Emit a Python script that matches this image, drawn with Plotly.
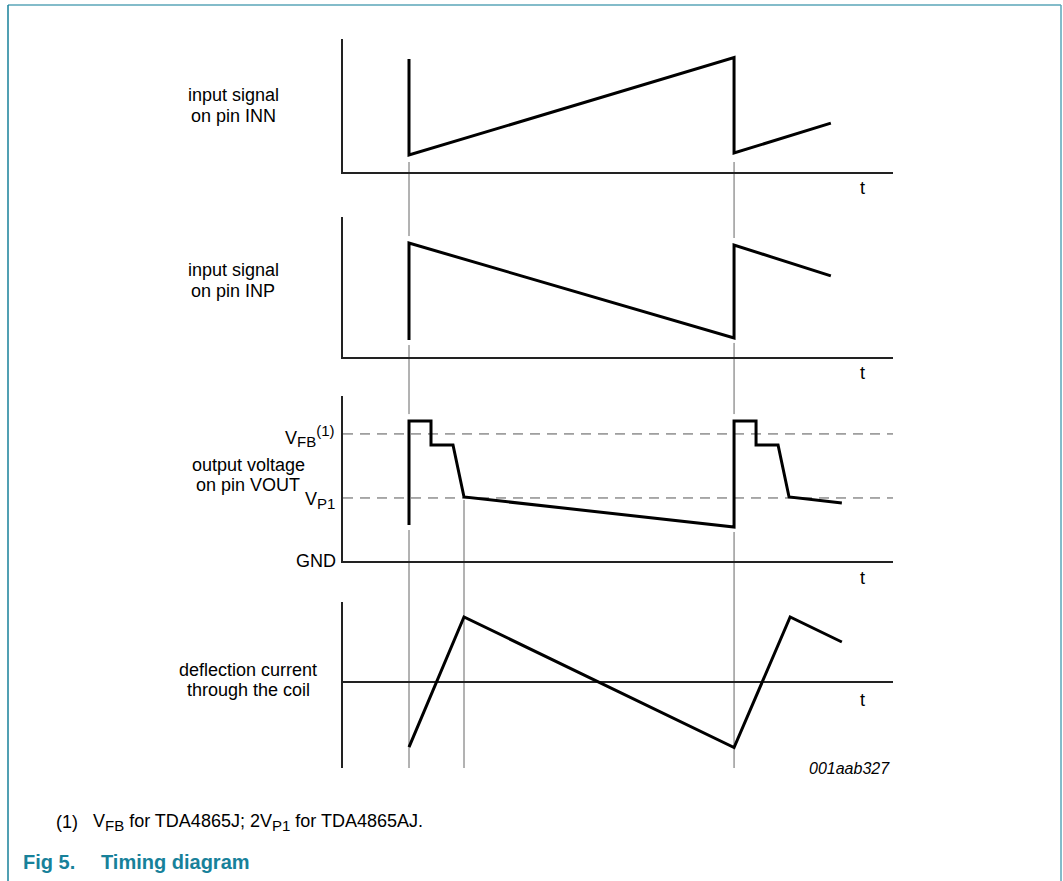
import plotly.graph_objects as go

W, H = 1063, 881

# ---- data (time in % of axis width, level in % of panel height) ----
t_inn = [12.0, 12.0, 71.1, 71.1, 88.7]
v_inn = [85.0, 12.8, 86.0, 14.3, 36.8]

t_inp = [12.0, 12.0, 71.1, 71.1, 88.7]
v_inp = [12.1, 81.4, 13.6, 80.0, 57.9]

t_out = [12.0, 12.0, 16.0, 16.0, 20.0, 22.0, 71.1, 71.1, 75.1, 75.1, 79.1, 81.1, 90.7]
v_out = [21.8, 84.8, 84.8, 70.3, 70.3, 38.8, 20.6, 84.8, 84.8, 70.3, 70.3, 38.8, 35.2]
v_fb_level = 77.0
v_p1_level = 38.2

t_coil = [12.0, 22.0, 71.1, 81.3, 90.7]
i_coil = [-39.2, 39.2, -39.5, 39.2, 24.1]

guide_times = [12.0, 71.1, 22.0]

panel_labels = [["input signal", "on pin INN"],
                ["input signal", "on pin INP"],
                ["output voltage", "on pin VOUT"],
                ["deflection current", "through the coil"]]

# ---- layout helpers (pixel -> paper) ----
def px(x):
    return x / W

def py(y):
    return 1 - y / H

FONT = "Liberation Sans, Arial, sans-serif"
AX = "#222222"
GUIDE = "#666666"
TEAL = "#17819a"
FRAME = "#5aa6b8"

xdom = [px(343), px(893)]
panels = [(39, 172, [0, 100]), (217, 357, [0, 100]), (396, 561, [0, 100]), (602, 768, [-51.8, 48.2])]

fig = go.Figure()

series = [(t_inn, v_inn), (t_inp, v_inp), (t_out, v_out), (t_coil, i_coil)]

def level_to_pix(i, lvl):
    top, bot, rng = panels[i]
    return bot - (lvl - rng[0]) / (rng[1] - rng[0]) * (bot - top)

shapes = []
# guide lines, interrupted around the vertical (retrace) segments of the signals
guide_spans = {12.0: (162, 768), 71.1: (162, 768), 22.0: (500, 768)}
for g in guide_times:
    y_start, y_end = guide_spans[g]
    gaps = []
    for i, (tt, vv) in enumerate(series):
        for k in range(len(tt) - 1):
            if tt[k] == g and tt[k + 1] == g:
                a, b = sorted([level_to_pix(i, vv[k]), level_to_pix(i, vv[k + 1])])
                gaps.append((a - 7, b + 5))
    gaps.sort()
    cur = y_start
    pieces = []
    for a, b in gaps:
        if a > cur:
            pieces.append((cur, a))
        cur = max(cur, b)
    pieces.append((cur, y_end))
    for y0, y1 in pieces:
        if y1 - y0 > 1:
            shapes.append(dict(type="line", xref="x", yref="paper", x0=g, x1=g,
                               y0=py(y0), y1=py(y1), line=dict(color=GUIDE, width=1), layer="below"))

for i, (tt, vv) in enumerate(series):
    n = "" if i == 0 else str(i + 1)
    fig.add_trace(go.Scatter(x=tt, y=vv, mode="lines", xaxis="x" + n, yaxis="y" + n,
                             line=dict(color="black", width=3), showlegend=False, hoverinfo="skip"))

for lvl in [v_fb_level, v_p1_level]:
    shapes.append(dict(type="line", xref="x3 domain", yref="y3", x0=0, x1=1, y0=lvl, y1=lvl,
                       line=dict(color="#555555", width=1, dash="10px,7px"), layer="below"))

shapes += [
    dict(type="line", xref="paper", yref="paper", x0=px(8), x1=px(1061), y0=py(5), y1=py(5), line=dict(color=FRAME, width=1.5)),
    dict(type="line", xref="paper", yref="paper", x0=px(8), x1=px(8), y0=py(5), y1=py(881), line=dict(color=TEAL, width=1.5)),
    dict(type="line", xref="paper", yref="paper", x0=px(1061), x1=px(1061), y0=py(5), y1=py(881), line=dict(color=FRAME, width=1.5)),
]

layout = dict(width=W, height=H, margin=dict(l=0, r=0, t=0, b=0),
              paper_bgcolor="white", plot_bgcolor="white", shapes=shapes,
              font=dict(family=FONT, size=18, color="black"))

for i, (top, bot, rng) in enumerate(panels):
    n = "" if i == 0 else str(i + 1)
    xa = dict(domain=xdom, range=[0, 100], anchor="y" + n, showgrid=False, zeroline=False,
              showticklabels=False, ticks="", showline=(i < 3), linecolor=AX, linewidth=1.5)
    ya = dict(domain=[py(bot), py(top)], range=rng, anchor="x" + n, showgrid=False,
              showticklabels=False, ticks="", showline=True, linecolor=AX, linewidth=1.5,
              zeroline=(i == 3), zerolinecolor=AX, zerolinewidth=1.5)
    layout["xaxis" + n] = xa
    layout["yaxis" + n] = ya

fig.update_layout(**layout)

ann = []
def text(x, y, s, xanchor="center", size=18, color="black", bold=False, italic=False):
    if bold:
        s = "<b>" + s + "</b>"
    if italic:
        s = "<i>" + s + "</i>"
    ann.append(dict(xref="paper", yref="paper", x=px(x), y=py(y), text=s, showarrow=False,
                    xanchor=xanchor, yanchor="middle", font=dict(family=FONT, size=size, color=color)))

label_pos = [(233, 95, 116), (233, 270, 291), (248, 465, 485), (248, 670, 690)]
for (cx, y1, y2), lines in zip(label_pos, panel_labels):
    text(cx, y1, lines[0])
    text(cx, y2, lines[1])

for ty in [188, 373, 578, 700]:
    text(862, ty, "t")

SUB = '<sub><span style="font-size:15px">%s</span></sub>'
text(337, 436, "V" + SUB % "FB" + '<sup><span style="font-size:15px">(1)</span></sup>', xanchor="right")
text(337, 500, "V" + SUB % "P1", xanchor="right")
text(338, 561, "GND", xanchor="right")

text(892, 768, "001aab327", xanchor="right", size=16, italic=True)

text(54, 822, "(1)", xanchor="left")
text(91, 822, "V" + SUB % "FB" + " for TDA4865J; 2V" + SUB % "P1" + " for TDA4865AJ.", xanchor="left")
text(21, 862, "Fig 5.", xanchor="left", size=20, color=TEAL, bold=True)
text(99, 862, "Timing diagram", xanchor="left", size=20, color=TEAL, bold=True)

fig.update_layout(annotations=ann)

fig.write_html("out.html", config={"displayModeBar": False},
               post_script="document.body.style.margin='0';document.body.style.overflow='hidden';")
